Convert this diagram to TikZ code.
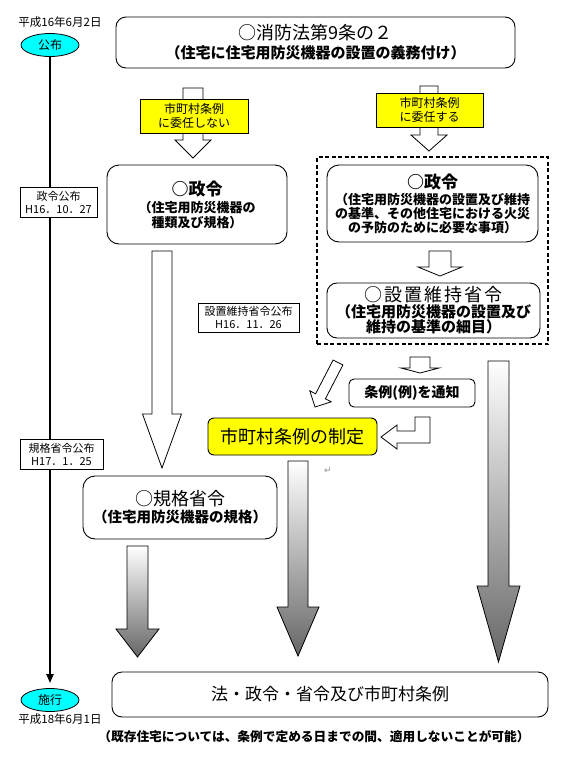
\documentclass[tikz,border=0pt]{standalone}
\usepackage{fontspec}
\setmainfont{Noto Sans CJK JP}
\newfontfamily\djv{DejaVu Sans}
\usetikzlibrary{arrows.meta,shapes.geometric}
\definecolor{kyellow}{RGB}{255,255,0}
\definecolor{kcyan}{RGB}{0,255,255}
\newcommand\fs[2]{\fontsize{#1pt}{#2pt}\selectfont}
% down block arrow: [style]{cx}{top}{shaft half width}{head start}{head half width}{tip}
\newcommand\dnarrow[7][]{%
  \path[#1] ({#2-#4},#3) -- ({#2+#4},#3) -- ({#2+#4},#5) -- ({#2+#6},#5) --
    (#2,#7) -- ({#2-#6},#5) -- ({#2-#4},#5) -- cycle;}
\begin{document}
\begin{tikzpicture}[x=1pt,y=-1pt,
  box/.style={draw, line width=0.9pt, fill=white, inner sep=0pt, align=center},
  rbox/.style={box, rounded corners=#1},
  lbl/.style={draw, line width=0.8pt, fill=white, inner sep=0pt, align=center, font=\fs{11}{13}},
  yel/.style={draw, line width=0.9pt, fill=kyellow, inner sep=0pt, align=center, font=\fs{12}{14}},
  oval/.style={draw, ellipse, fill=kcyan, line width=0.8pt, minimum width=58pt, minimum height=23pt, inner sep=0pt, font=\fs{12}{12}},
  warrow/.style={draw=black, line width=0.8pt, fill=white, line join=miter},
  garrow/.style={draw=black, line width=0.8pt, top color=white, bottom color=black!60, line join=miter}]
\useasboundingbox (0,0) rectangle (568,769);

% ---------- timeline ----------
\node[oval] (pub) at (50,45) {公布};
\node[oval] (seko) at (50,700) {施行};
\node[font=\fs{11.5}{12}] (d1) at (60,22) {平成16年6月2日};
\node[font=\fs{11.5}{12}] (d2) at (60,719) {平成18年6月1日};
\draw[line width=2pt, -{Triangle[length=9pt,width=7pt]}, shorten >=5pt] (pub) -- (seko);
\node[lbl, minimum width=77pt, minimum height=30pt] (t1) at (58.5,202) {政令公布\\H16．10．27};
\node[lbl, minimum width=101pt, minimum height=29pt] (t2) at (248.5,317.5) {設置維持省令公布\\H16．11．26};
\node[lbl, minimum width=83pt, minimum height=30pt] (t3) at (61.5,454) {規格省令公布\\H17．1．25};

% ---------- top ----------
\node[rbox=10pt, minimum width=399pt, minimum height=51pt, font=\fs{15}{18}\bfseries] (law) at (315.5,42.5)
  {{\fs{18}{18}\mdseries ○消防法第9条の２}\\[1pt]（住宅に住宅用防災機器の設置の義務付け）};

\dnarrow[warrow]{193}{88}{10}{140}{18}{158}
\dnarrow[warrow]{429}{86}{9}{135}{18}{151}
\node[yel, minimum width=108pt, minimum height=34pt] (yL) at (194,116) {市町村条例\\に委任しない};
\node[yel, minimum width=107pt, minimum height=34pt] (yR) at (429.5,110) {市町村条例\\に委任する};

% ---------- left column ----------
\node[rbox=12pt, minimum width=180pt, minimum height=79pt, font=\fs{13}{15}\bfseries] (seireiL) at (197,204.5)
  {{\fs{17}{17}○政令}\\[2pt]（住宅用防災機器の\\種類及び規格）};
\dnarrow[warrow]{162}{251}{10}{414}{19.5}{468}
\node[rbox=12pt, minimum width=194pt, minimum height=63pt, font=\fs{14.5}{17}\bfseries] (kikaku) at (180,507.5)
  {{\fs{18}{18}\mdseries ○規格省令}\\（住宅用防災機器の規格）};
\dnarrow[garrow]{137.5}{546}{10.5}{629}{21.5}{657}

% ---------- right column ----------
\node[draw, dash pattern=on 4pt off 2.5pt, line width=1.8pt, minimum width=231pt, minimum height=187pt, inner sep=0pt] (grp) at (432.5,250.5) {};
\node[rbox=12pt, minimum width=211pt, minimum height=77pt, font=\fs{13}{14}\bfseries] (seireiR) at (432.5,203.5)
  {{\fs{17}{17}○政令}\\[2pt]（住宅用防災機器の設置及び維持\\の基準、その他住宅における火災\\の予防のために必要な事項）};
\dnarrow[warrow]{440}{251}{11}{267}{22}{276}
\node[rbox=10pt, minimum width=213pt, minimum height=55pt, font=\fs{15}{15.5}\bfseries] (setchi) at (433.5,310.5)
  {{\fs{18}{18}\mdseries\addfontfeature{LetterSpace=12}○設置維持省令}\\（住宅用防災機器の設置及び\\維持の基準の細目）};

\dnarrow[warrow]{420}{357}{10}{368}{19}{373}
\node[rbox=5pt, minimum width=126pt, minimum height=28pt, font=\fs{14}{14}\bfseries] (tsuchi) at (412,393) {条例(例)を通知};
\path[warrow] (333.1,360.0) -- (342.9,365.0) -- (325.4,398.8) -- (331.2,401.8) -- (315,407)
  -- (309.8,390.8) -- (315.6,393.8) -- cycle;
\path[warrow] (415,417) -- (430,417) -- (430,443) -- (397,443) -- (397,449) -- (381,437)
  -- (397,425) -- (397,431) -- (415,431) -- cycle;
\node[rbox=6pt, fill=kyellow, minimum width=169pt, minimum height=37pt, font=\fs{18}{18}] (seitei) at (292.5,436.5) {市町村条例の制定};
\node[font=\djv\fs{9}{9}, text=black!45, inner sep=0pt] (pm) at (328,471) {↵};

\dnarrow[garrow]{298}{461}{10}{607}{21}{656}
\dnarrow[garrow]{498.5}{361}{10.5}{586}{21.5}{662}

% ---------- bottom ----------
\node[rbox=10pt, minimum width=436pt, minimum height=45pt, font=\fs{17}{17}] (all) at (330,694.5) {法・政令・省令及び市町村条例};
\node[font=\fs{12.7}{14}\bfseries, inner sep=0pt] (note) at (314,737)
  {（既存住宅については、条例で定める日までの間、適用しないことが可能）};
\end{tikzpicture}
\end{document}
